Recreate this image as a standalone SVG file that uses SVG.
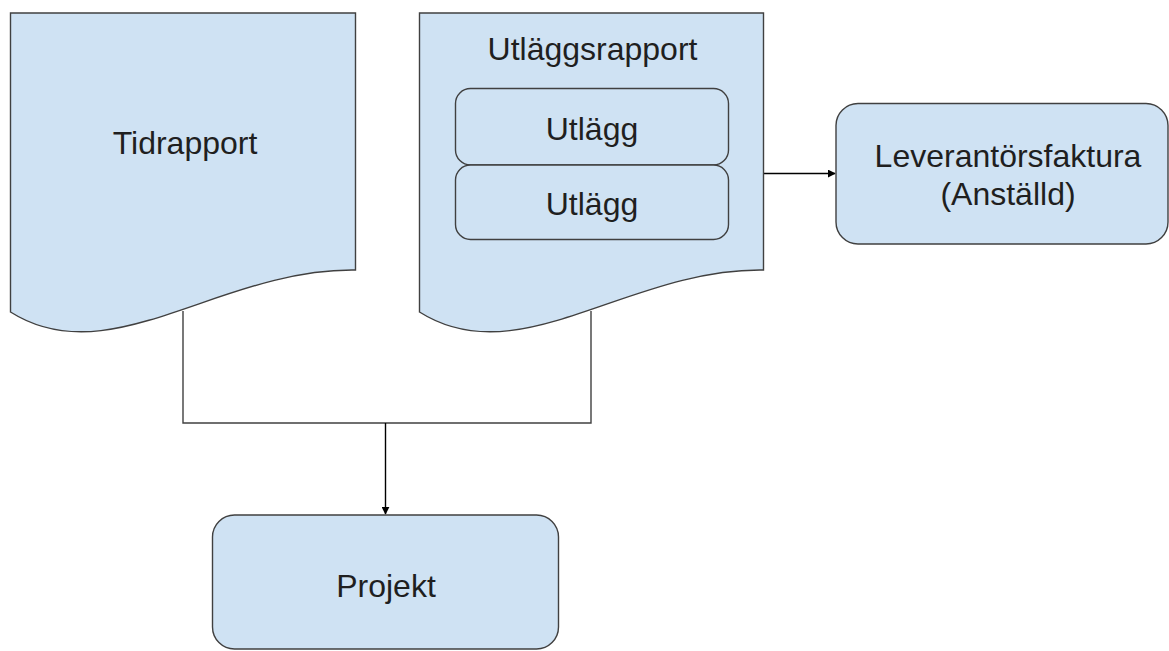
<svg xmlns="http://www.w3.org/2000/svg" width="1169" height="651" viewBox="0 0 1169 651">
  <defs>
    <marker id="arrow" viewBox="0 0 10 10" refX="9" refY="5" markerWidth="8" markerHeight="8" markerUnits="userSpaceOnUse" orient="auto">
      <path d="M0,0 L10,5 L0,10 Z" fill="#000"/>
    </marker>
    <style>
      .shape { fill: #cfe2f3; stroke: #404040; stroke-width: 1.4; }
      .label { font-family: "Liberation Sans", Arial, sans-serif; font-size: 32px; fill: #1f1f1f; text-anchor: middle; }
      .wire { fill: none; stroke: #404040; stroke-width: 1.4; }
      .arrow { fill: none; stroke: #000; stroke-width: 1.4; marker-end: url(#arrow); }
    </style>
  </defs>
  <rect width="1169" height="651" fill="#fff"/>

  <g id="connectors">
    <polyline class="wire" points="183,311 183,423 591,423 591,311"/>
    <line class="arrow" x1="385.5" y1="423" x2="385.5" y2="514"/>
    <line class="arrow" x1="763.5" y1="173.5" x2="835" y2="173.5"/>
  </g>

  <g id="tidrapport">
    <path class="shape" d="M10.5,13 H355.5 V270 C220,268 110,375 10.5,312 Z"/>
    <text class="label" x="185" y="154">Tidrapport</text>
  </g>

  <g id="utlaggsrapport">
    <path class="shape" d="M419.5,13 H763.5 V270 C628,268 519,375 419.5,312 Z"/>
    <text class="label" x="592.5" y="60">Utläggsrapport</text>
    <g id="utlagg-1">
      <rect class="shape" x="455.5" y="88.5" width="273" height="76.5" rx="15"/>
      <text class="label" x="592" y="140">Utlägg</text>
    </g>
    <g id="utlagg-2">
      <rect class="shape" x="455.5" y="165" width="273" height="74.5" rx="15"/>
      <text class="label" x="592" y="215">Utlägg</text>
    </g>
  </g>

  <g id="leverantorsfaktura">
    <rect class="shape" x="836" y="103.5" width="332" height="140.5" rx="22"/>
    <text class="label" x="1008" y="167">Leverantörsfaktura</text>
    <text class="label" x="1008" y="205">(Anställd)</text>
  </g>

  <g id="projekt">
    <rect class="shape" x="212.5" y="515" width="346" height="134" rx="22"/>
    <text class="label" x="386" y="597">Projekt</text>
  </g>
</svg>
